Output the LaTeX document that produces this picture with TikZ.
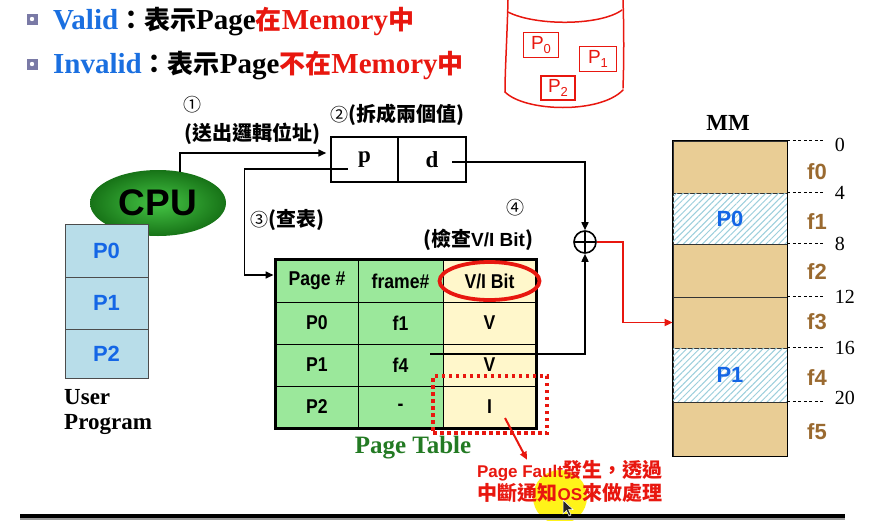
\documentclass[tikz,border=0pt]{standalone}
\usepackage{fontspec}
\setmainfont{Liberation Serif}
\setsansfont{Liberation Sans}
\newfontfamily\cjk{Noto Sans CJK TC}
\newfontfamily\narrow{Liberation Sans}[FakeStretch=0.88]
\usetikzlibrary{shapes.geometric,arrows.meta,patterns.meta}
\definecolor{vblue}{HTML}{1A6FE0}
\definecolor{vred}{HTML}{E8170F}
\definecolor{pblue}{HTML}{1466E6}
\definecolor{stackblue}{HTML}{B8DDE9}
\definecolor{tgreen}{HTML}{9BE89B}
\definecolor{tyellow}{HTML}{FFF7CB}
\definecolor{mmtan}{HTML}{E9CD95}
\definecolor{fbrown}{HTML}{9A6A30}
\definecolor{ptgreen}{HTML}{237A23}
\definecolor{hatch}{HTML}{9CCFDC}
\definecolor{bulcol}{HTML}{7A7AA6}
\definecolor{cpuin}{HTML}{45C545}
\definecolor{cpuout}{HTML}{177317}
\newcommand\hz[2][26]{{\cjk\bfseries\fontsize{#1}{#1}\selectfont #2}}
\newcommand\circnum[1]{{\cjk\fontsize{18}{18}\selectfont #1}}
\newcommand\hsub[1]{\raisebox{-4pt}{\fontsize{13}{13}\selectfont #1}}
\begin{document}
\begin{tikzpicture}[x=1pt,y=-1pt,
 arr/.style={-{Triangle[length=8pt,width=7pt]}, line width=1.6pt},
 redarr/.style={-{Triangle[length=8pt,width=7pt]}, line width=1.8pt, draw=vred, color=vred},
 bul/.style={minimum size=11pt, inner sep=0pt, fill=bulcol,
   path picture={\fill[white] (path picture bounding box.center) circle (2.2pt);}},
 stk/.style={draw=black!70, line width=0.8pt, fill=stackblue, minimum width=83pt, inner sep=0pt,
   text=pblue, font=\sffamily\bfseries\fontsize{22}{24}\selectfont},
 tc/.style={draw=black, line width=1pt, inner sep=0pt, minimum height=42pt,
   font=\narrow\bfseries\fontsize{20}{22}\selectfont},
 gc/.style={tc, fill=tgreen},
 yc/.style={tc, fill=tyellow},
 fr/.style={draw=black!80, line width=0.8pt, fill=mmtan, minimum width=114pt, inner sep=0pt},
 hfr/.style={draw=black!80, line width=0.8pt, fill=white,
   postaction={pattern={Lines[angle=45,distance=4.5pt,line width=1pt]}, pattern color=hatch},
   minimum width=114pt, inner sep=0pt, text=pblue, font=\sffamily\bfseries\fontsize{22}{24}\selectfont},
 tick/.style={dash pattern=on 3pt off 2.5pt, line width=0.9pt},
 num/.style={anchor=west, inner sep=0pt, xshift=9pt, font=\fontsize{20}{22}\selectfont},
 flab/.style={text=fbrown, font=\sffamily\bfseries\fontsize{22}{24}\selectfont},
 hand/.style={draw=vred, line width=1.4pt, text=vred, inner sep=0pt, font=\sffamily\fontsize{19}{19}\selectfont}
]
\useasboundingbox (0,0) rectangle (879,520);

% heading
\node[bul] (b1) at (32,19) {};
\node[bul] (b2) at (32,64) {};
\node[anchor=west, inner sep=0pt, font=\bfseries\fontsize{29}{31}\selectfont] (l1) at (53,22)
  {\textcolor{vblue}{Valid}\hz{：表示}Page\textcolor{vred}{\hz{在}Memory\hz{中}}};
\node[anchor=west, inner sep=0pt, font=\bfseries\fontsize{29}{31}\selectfont] (l2) at (53,66)
  {\textcolor{vblue}{Invalid}\hz{：表示}Page\textcolor{vred}{\hz{不在}Memory\hz{中}}};

% handwritten disk
\begin{scope}[draw=vred, line width=1.5pt, line cap=round]
\draw (508,0) .. controls (507,40) and (505,70) .. (505,92);
\draw (623,0) .. controls (624,30) and (624,60) .. (623,88);
\draw (508,12) .. controls (535,26) and (600,26) .. (622,10);
\draw (505,92) .. controls (525,112) and (600,114) .. (623,90);
\end{scope}
\node[hand, minimum width=35pt, minimum height=25pt] (hp0) at (541,45) {P\hsub{0}};
\node[hand, minimum width=37pt, minimum height=25pt] (hp1) at (598,59) {P\hsub{1}};
\node[hand, minimum width=34pt, minimum height=24pt] (hp2) at (558,88) {P\hsub{2}};

% CPU and user program
\node[ellipse, minimum width=136pt, minimum height=66pt, inner color=cpuin, outer color=cpuout,
  inner sep=0pt, font=\sffamily\bfseries\fontsize{37}{39}\selectfont] (cpu) at (158,203) {CPU};
\node[stk, minimum height=53pt] (up0) at (106.5,250.5) {P0};
\node[stk, minimum height=52pt] (up1) at (106.5,303) {P1};
\node[stk, minimum height=49pt] (up2) at (106.5,353.5) {P2};
\node[anchor=west, inner sep=0pt, font=\bfseries\fontsize{23}{25}\selectfont] (ut1) at (64,397) {User};
\node[anchor=west, inner sep=0pt, font=\bfseries\fontsize{23}{25}\selectfont] (ut2) at (64,425) {Program};

% logical address
\node[draw, line width=1.5pt, minimum width=67pt, minimum height=45pt, inner sep=0pt,
  font=\bfseries\fontsize{23}{25}\selectfont] (p) at (364.5,159.5) {p};
\node[draw, line width=1.5pt, minimum width=68pt, minimum height=45pt, inner sep=0pt,
  font=\bfseries\fontsize{23}{25}\selectfont] (d) at (432,159.5) {d};

% step labels
\node[inner sep=0pt] (n1) at (192,105) {\circnum{①}};
\node[inner sep=0pt] (t1) at (252,134) {\hz[20]{(送出邏輯位址)}};
\node[anchor=west, inner sep=0pt] (t2) at (330,115) {\circnum{②}\hz[20]{(拆成兩個值)}};
\node[anchor=west, inner sep=0pt] (t3) at (250,220) {\circnum{③}\hz[20]{(查表)}};
\node[inner sep=0pt] (n4) at (515,208) {\circnum{④}};
\node[anchor=west, inner sep=0pt] (t4) at (423,240)
  {\hz[20]{(檢查}{\sffamily\bfseries\fontsize{19}{20}\selectfont V/I Bit}\hz[20]{)}};

% page table
\node[gc, minimum width=82pt] (r0c1) at (317,281) {Page \#};
\node[gc, minimum width=85pt] (r0c2) at (400.5,281) {frame\#};
\node[yc, minimum width=93pt] (r0c3) at (489.5,281) {V/I Bit};
\node[gc, minimum width=82pt] (r1c1) at (317,323) {P0};
\node[gc, minimum width=85pt] (r1c2) at (400.5,323) {f1};
\node[yc, minimum width=93pt] (r1c3) at (489.5,323) {V};
\node[gc, minimum width=82pt] (r2c1) at (317,365) {P1};
\node[gc, minimum width=85pt] (r2c2) at (400.5,365) {f4};
\node[yc, minimum width=93pt] (r2c3) at (489.5,365) {V};
\node[gc, minimum width=82pt] (r3c1) at (317,407) {P2};
\node[gc, minimum width=85pt] (r3c2) at (400.5,407) {-};
\node[yc, minimum width=93pt] (r3c3) at (489.5,407) {I};
\draw[line width=2.2pt] (r0c1.north west) rectangle (r3c3.south east);
\draw[vred, line width=3.8pt] (r0c3.center) ellipse [x radius=50pt, y radius=19pt];
\node[draw=vred, line width=3.5pt, dash pattern=on 3.5pt off 3.5pt, minimum width=114pt,
  minimum height=57pt, inner sep=0pt] (fb) at (490,404.5) {};
\node[text=ptgreen, inner sep=0pt, font=\bfseries\fontsize{25}{27}\selectfont] (ptl) at (413,448) {Page Table};

% adder
\node[circle, draw, line width=1.6pt, minimum size=22pt, inner sep=0pt,
  path picture={\draw[line width=1.6pt] (path picture bounding box.north) -- (path picture bounding box.south)
     (path picture bounding box.west) -- (path picture bounding box.east);}] (plus) at (585,242) {};

% main memory
\node[inner sep=0pt, font=\bfseries\fontsize{23}{25}\selectfont] (mml) at (728,123) {MM};
\node[fr, minimum height=52pt] (fr0) at (730,167) {};
\node[hfr, minimum height=51pt] (fr1) at (730,218.5) {P0};
\node[fr, minimum height=53pt] (fr2) at (730,270.5) {};
\node[fr, minimum height=51pt] (fr3) at (730,322.5) {};
\node[hfr, minimum height=54pt] (fr4) at (730,375) {P1};
\node[fr, minimum height=54pt] (fr5) at (730,429) {};
\draw[line width=1.2pt] (fr0.north west) rectangle (fr5.south east);
\draw[tick] (fr0.north east) -- ++(38pt,0) node[num, yshift=-4pt] {0};
\draw[tick] (fr1.north east) -- ++(38pt,0) node[num] {4};
\draw[tick] (fr2.north east) -- ++(38pt,0) node[num] {8};
\draw[tick] (fr3.north east) -- ++(38pt,0) node[num] {12};
\draw[tick] (fr4.north east) -- ++(38pt,0) node[num] {16};
\draw[tick] (fr5.north east) -- ++(38pt,0) node[num, yshift=4pt] {20};
\node[flab] (lf0) at (817,172) {f0};
\node[flab] (lf1) at (817,222) {f1};
\node[flab] (lf2) at (817,272) {f2};
\node[flab] (lf3) at (817,322) {f3};
\node[flab] (lf4) at (817,378) {f4};
\node[flab] (lf5) at (817,432) {f5};

% page fault note
\node[circle, fill=yellow, opacity=0.9, minimum size=54pt, inner sep=0pt] (hl) at (560,497) {};
\fill[black] (20,513.5) rectangle (845,517.5);
\fill[gray!80] (20,517.5) rectangle (845,520);
\node[text=vred, align=center, inner sep=0pt, font=\sffamily\bfseries\fontsize{17}{23}\selectfont] (pf) at (570,481)
  {Page Fault\hz[20]{發生，透過}\\\hz[20]{中斷通知}OS\hz[20]{來做處理}};
\draw[fill=black!85, draw=white, line width=0.5pt] (563,500) -- ++(0,14) -- ++(3.5,-3.5) -- ++(2.5,5.5)
  -- ++(2,-1) -- ++(-2.5,-5.5) -- ++(4.5,0) -- cycle;

% connectors
\draw[arr] ([shift={(22pt,-2pt)}]cpu.north) |- ([shift={(-4pt,6.5pt)}]p.west);
\draw[arr] ([shift={(-17pt,-9.5pt)}]p.center) -| ([shift={(-31pt,6pt)}]r0c1.west) -- ([shift={(-2pt,6pt)}]r0c1.west);
\draw[arr] ([shift={(20pt,-2.5pt)}]d.center) -| (plus.north);
\draw[arr] ([shift={(29.5pt,11pt)}]r2c2.center) -| (plus.south);
\draw[redarr] (plus.east) -- ++(26pt,0) |- (fr3.west);
\draw[redarr, line width=2pt] ([shift={(15pt,-13.5pt)}]fb.center) -- ([xshift=-43pt]pf.north);
\end{tikzpicture}
\end{document}
